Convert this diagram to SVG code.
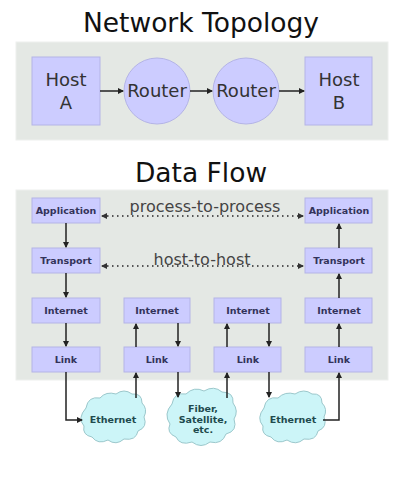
<svg xmlns="http://www.w3.org/2000/svg" width="405" height="480" viewBox="0 0 405 480">
<style>
.title{font-family:"DejaVu Sans",sans-serif;font-size:26.5px;fill:#111;text-anchor:middle}
.panel{fill:#e4e8e4;stroke:#eef0ee;stroke-width:1}
.box{fill:#ccccff;stroke:#b4b4e6;stroke-width:1}
.big{font-family:"DejaVu Sans",sans-serif;font-size:18px;fill:#333;text-anchor:middle}
.sm{font-family:"DejaVu Sans",sans-serif;font-size:9.5px;font-weight:bold;fill:#33335a;text-anchor:middle}
.lbl{font-family:"DejaVu Sans",sans-serif;font-size:16px;fill:#444;text-anchor:middle}
.cloud{fill:#ccf5f8;stroke:#9cc8cc;stroke-width:1}
.ct{font-family:"DejaVu Sans",sans-serif;font-size:9.5px;font-weight:bold;fill:#1e4a4e;text-anchor:middle}
.ln{stroke:#222;stroke-width:1.5;fill:none}
.dot{stroke:#555;stroke-width:1.8;stroke-dasharray:1.5 3.5;fill:none}
</style>
<defs>
<marker id="ah" markerWidth="6" markerHeight="6" refX="5" refY="3" orient="auto" markerUnits="userSpaceOnUse"><path d="M0,0 L6,3 L0,6 z" fill="#222"/></marker>
<marker id="dh" markerWidth="6" markerHeight="6" refX="5" refY="3" orient="auto-start-reverse" markerUnits="userSpaceOnUse"><path d="M0,0 L6,3 L0,6 z" fill="#333"/></marker>
</defs>
<rect width="405" height="480" fill="#fff"/>
<text class="title" x="201" y="32">Network Topology</text>
<rect class="panel" x="16" y="42" width="372" height="98"/>
<g id="hostA"><rect class="box" x="32" y="57" width="68" height="68"/><text class="big" x="66" y="86">Host</text><text class="big" x="66" y="109">A</text></g>
<g id="router1"><circle class="box" cx="157" cy="91" r="33"/><text class="big" x="157" y="97">Router</text></g>
<g id="router2"><circle class="box" cx="246" cy="91" r="33"/><text class="big" x="246" y="97">Router</text></g>
<g id="hostB"><rect class="box" x="305" y="57" width="67" height="68"/><text class="big" x="339" y="86">Host</text><text class="big" x="339" y="109">B</text></g>

<text class="title" x="201" y="182">Data Flow</text>
<rect class="panel" x="16" y="190" width="372" height="190"/>

<g id="app1"><rect class="box" x="32" y="198" width="68" height="25"/><text class="sm" x="66" y="214">Application</text></g>
<g id="app4"><rect class="box" x="305" y="198" width="67" height="25"/><text class="sm" x="339" y="214">Application</text></g>
<g id="tr1"><rect class="box" x="32" y="248" width="68" height="25"/><text class="sm" x="66" y="264">Transport</text></g>
<g id="tr4"><rect class="box" x="305" y="248" width="67" height="25"/><text class="sm" x="339" y="264">Transport</text></g>
<g id="in1"><rect class="box" x="32" y="298" width="68" height="25"/><text class="sm" x="66" y="314">Internet</text></g>
<g id="in2"><rect class="box" x="124" y="298" width="66" height="25"/><text class="sm" x="157" y="314">Internet</text></g>
<g id="in3"><rect class="box" x="214" y="298" width="67" height="25"/><text class="sm" x="248" y="314">Internet</text></g>
<g id="in4"><rect class="box" x="305" y="298" width="67" height="25"/><text class="sm" x="339" y="314">Internet</text></g>
<g id="lk1"><rect class="box" x="32" y="347" width="68" height="25"/><text class="sm" x="66" y="363">Link</text></g>
<g id="lk2"><rect class="box" x="124" y="347" width="66" height="25"/><text class="sm" x="157" y="363">Link</text></g>
<g id="lk3"><rect class="box" x="214" y="347" width="67" height="25"/><text class="sm" x="248" y="363">Link</text></g>
<g id="lk4"><rect class="box" x="305" y="347" width="67" height="25"/><text class="sm" x="339" y="363">Link</text></g>

<g id="eth1"><path class="cloud" d="M86,408 q2,-12 14,-10 q6,-7 16,-4 q8,-6 16,0 q10,-1 10,9 q6,6 2,14 q4,10 -6,14 q-2,10 -14,8 q-8,7 -16,1 q-10,5 -16,-3 q-10,-2 -8,-11 q-7,-8 2,-18z"/><text class="ct" x="113" y="423">Ethernet</text></g>
<g id="fiber"><path class="cloud" d="M172,404 q2,-12 14,-10 q8,-8 18,-3 q10,-6 18,1 q12,0 11,11 q6,8 1,16 q4,12 -8,15 q-4,11 -16,8 q-9,7 -18,0 q-12,4 -16,-5 q-10,-4 -6,-13 q-7,-10 2,-20z"/><text class="ct" x="203" y="412">Fiber,</text><text class="ct" x="203" y="423">Satellite,</text><text class="ct" x="203" y="433">etc.</text></g>
<g id="eth2"><path class="cloud" d="M264,408 q2,-12 14,-10 q7,-7 17,-4 q9,-6 17,0 q10,-1 10,9 q6,6 2,14 q4,10 -6,14 q-2,10 -14,8 q-8,7 -17,1 q-10,5 -16,-3 q-10,-2 -8,-11 q-7,-8 1,-18z"/><text class="ct" x="293" y="423">Ethernet</text></g>

<g id="connectors">
<line class="ln" x1="100" y1="91" x2="123" y2="91" marker-end="url(#ah)"/>
<line class="ln" x1="190" y1="91" x2="212" y2="91" marker-end="url(#ah)"/>
<line class="ln" x1="279" y1="91" x2="304" y2="91" marker-end="url(#ah)"/>
<line class="dot" x1="102" y1="216" x2="303" y2="216" marker-start="url(#dh)" marker-end="url(#dh)"/>
<line class="dot" x1="102" y1="266" x2="303" y2="266" marker-start="url(#dh)" marker-end="url(#dh)"/>
<line class="ln" x1="66" y1="223" x2="66" y2="247" marker-end="url(#ah)"/>
<line class="ln" x1="66" y1="273" x2="66" y2="297" marker-end="url(#ah)"/>
<line class="ln" x1="66" y1="323" x2="66" y2="346" marker-end="url(#ah)"/>
<line class="ln" x1="339" y1="248" x2="339" y2="224" marker-end="url(#ah)"/>
<line class="ln" x1="339" y1="298" x2="339" y2="274" marker-end="url(#ah)"/>
<line class="ln" x1="339" y1="347" x2="339" y2="324" marker-end="url(#ah)"/>
<line class="ln" x1="136" y1="347" x2="136" y2="324" marker-end="url(#ah)"/>
<line class="ln" x1="178" y1="323" x2="178" y2="346" marker-end="url(#ah)"/>
<line class="ln" x1="227" y1="347" x2="227" y2="324" marker-end="url(#ah)"/>
<line class="ln" x1="269" y1="323" x2="269" y2="346" marker-end="url(#ah)"/>
<polyline class="ln" points="66,372 66,420 82,420" marker-end="url(#ah)"/>
<line class="ln" x1="136" y1="398" x2="136" y2="373" marker-end="url(#ah)"/>
<line class="ln" x1="178" y1="372" x2="178" y2="397" marker-end="url(#ah)"/>
<line class="ln" x1="227" y1="398" x2="227" y2="373" marker-end="url(#ah)"/>
<line class="ln" x1="269" y1="372" x2="269" y2="397" marker-end="url(#ah)"/>
<polyline class="ln" points="323,420 339,420 339,373" marker-end="url(#ah)"/>
</g>
<text class="lbl" x="205" y="212">process-to-process</text>
<text class="lbl" x="202" y="265">host-to-host</text>
</svg>
